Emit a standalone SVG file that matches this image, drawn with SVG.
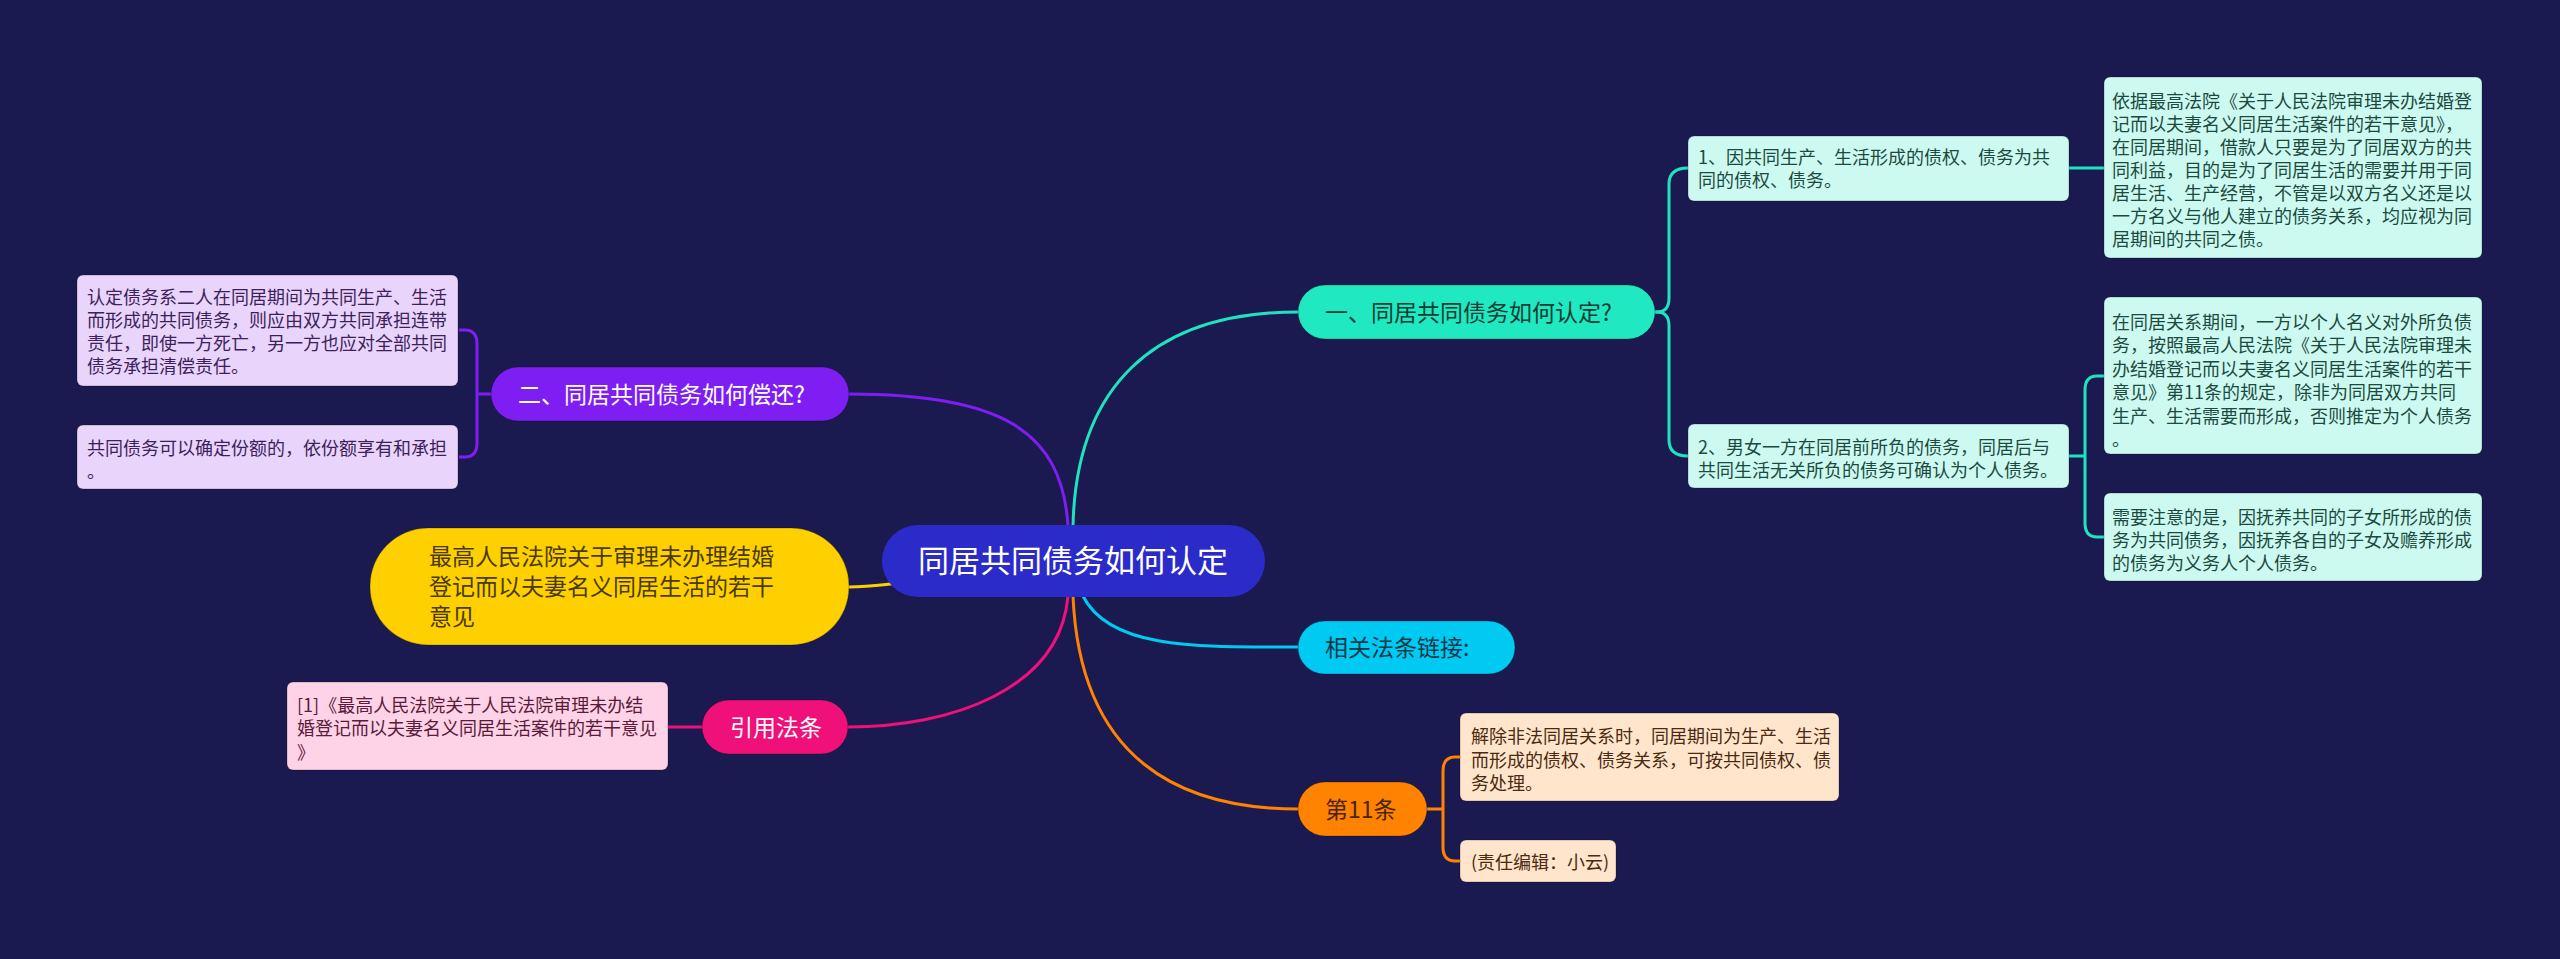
<svg xmlns="http://www.w3.org/2000/svg" width="2560" height="959" viewBox="0 0 2560 959">
<style>
text{font-family:"Noto Sans CJK SC","Noto Sans",sans-serif;}
.leaf{font-size:18px;}
.br{font-size:23px;}
.c{fill:none;stroke-width:3;}
.edge{stroke:rgba(0,0,0,0.25);stroke-width:1;}
</style>
<rect x="0" y="0" width="2560" height="959" fill="#1b1a50"/>
<g id="connectors">
  <path class="c" stroke="#1fe3c0" d="M1073,526 C1076,390 1150,312 1298,312"/>
  <path class="c" stroke="#7e1ef2" d="M1068,526 C1062,430 1000,394 849,394"/>
  <path class="c" stroke="#ffd000" d="M849,587 C870,587 880,585 900,583"/>
  <path class="c" stroke="#f0107a" d="M1068,596 C1060,690 950,727 848,727"/>
  <path class="c" stroke="#00c9f2" d="M1083,596 C1110,650 1200,647 1298,647"/>
  <path class="c" stroke="#ff8200" d="M1073,596 C1080,760 1180,809 1298,809"/>
  <path class="c" stroke="#1fe3c0" d="M1654,312 H1657 Q1669,312 1669,298 V184 Q1669,168 1688,168"/>
  <path class="c" stroke="#1fe3c0" d="M1654,312 H1657 Q1669,312 1669,326 V440 Q1669,456 1688,456"/>
  <path class="c" stroke="#1fe3c0" d="M2069,168 H2104"/>
  <path class="c" stroke="#1fe3c0" d="M2069,456 H2085 M2104,376 H2097 Q2085,376 2085,390 V523 Q2085,537 2097,537 H2104"/>
  <path class="c" stroke="#7e1ef2" d="M491,394 H477 M459,330 H465 Q477,330 477,344 V443 Q477,457 465,457 H459"/>
  <path class="c" stroke="#f0107a" d="M668,727 H702"/>
  <path class="c" stroke="#ff8200" d="M1427,809 H1443 M1460,757 H1455 Q1443,757 1443,771 V847 Q1443,861 1455,861 H1460"/>
</g>
<g id="center">
  <rect x="882" y="525" width="383" height="72" rx="36" fill="#2a2bc8"/>
  <text x="1073" y="572" font-size="31" fill="#ffffff" text-anchor="middle">同居共同债务如何认定</text>
</g>
<g id="branch1">
  <rect class="edge" x="1298" y="285" width="357" height="54" rx="27" fill="#20e8c0"/>
  <text class="br" x="1325" y="321" fill="#0f3d33">一、同居共同债务如何认定?</text>
</g>
<g id="leaf1a">
  <rect class="edge" x="1688" y="136" width="381" height="65" rx="6" fill="#ccfaf1"/>
  <text class="leaf" fill="#1d4a3e"><tspan x="1698" y="164">1、因共同生产、生活形成的债权、债务为共</tspan><tspan x="1698" y="187">同的债权、债务。</tspan></text>
</g>
<g id="leaf1a-detail">
  <rect class="edge" x="2104" y="77" width="378" height="181" rx="6" fill="#ccfaf1"/>
  <text class="leaf" fill="#1d4a3e"><tspan x="2112" y="108">依据最高法院《关于人民法院审理未办结婚登</tspan><tspan x="2112" y="131">记而以夫妻名义同居生活案件的若干意见》，</tspan><tspan x="2112" y="154">在同居期间，借款人只要是为了同居双方的共</tspan><tspan x="2112" y="177">同利益，目的是为了同居生活的需要并用于同</tspan><tspan x="2112" y="200">居生活、生产经营，不管是以双方名义还是以</tspan><tspan x="2112" y="223">一方名义与他人建立的债务关系，均应视为同</tspan><tspan x="2112" y="246">居期间的共同之债。</tspan></text>
</g>
<g id="leaf1b">
  <rect class="edge" x="1688" y="424" width="381" height="64" rx="6" fill="#ccfaf1"/>
  <text class="leaf" fill="#1d4a3e"><tspan x="1698" y="454">2、男女一方在同居前所负的债务，同居后与</tspan><tspan x="1698" y="477">共同生活无关所负的债务可确认为个人债务。</tspan></text>
</g>
<g id="leaf1b-detail1">
  <rect class="edge" x="2104" y="297" width="378" height="157" rx="6" fill="#ccfaf1"/>
  <text class="leaf" fill="#1d4a3e"><tspan x="2112" y="329">在同居关系期间，一方以个人名义对外所负债</tspan><tspan x="2112" y="352">务，按照最高人民法院《关于人民法院审理未</tspan><tspan x="2112" y="376">办结婚登记而以夫妻名义同居生活案件的若干</tspan><tspan x="2112" y="399">意见》第11条的规定，除非为同居双方共同</tspan><tspan x="2112" y="423">生产、生活需要而形成，否则推定为个人债务</tspan><tspan x="2112" y="446">。</tspan></text>
</g>
<g id="leaf1b-detail2">
  <rect class="edge" x="2104" y="493" width="378" height="88" rx="6" fill="#ccfaf1"/>
  <text class="leaf" fill="#1d4a3e"><tspan x="2112" y="524">需要注意的是，因抚养共同的子女所形成的债</tspan><tspan x="2112" y="547">务为共同债务，因抚养各自的子女及赡养形成</tspan><tspan x="2112" y="570">的债务为义务人个人债务。</tspan></text>
</g>
<g id="branch2">
  <rect class="edge" x="491" y="367" width="358" height="54" rx="27" fill="#7e1ef2"/>
  <text class="br" x="518" y="403" fill="#ffffff">二、同居共同债务如何偿还?</text>
</g>
<g id="leaf2a">
  <rect class="edge" x="77" y="275" width="381" height="111" rx="6" fill="#e9d4fb"/>
  <text class="leaf" fill="#3d1f5c"><tspan x="87" y="304">认定债务系二人在同居期间为共同生产、生活</tspan><tspan x="87" y="327">而形成的共同债务，则应由双方共同承担连带</tspan><tspan x="87" y="350">责任，即使一方死亡，另一方也应对全部共同</tspan><tspan x="87" y="373">债务承担清偿责任。</tspan></text>
</g>
<g id="leaf2b">
  <rect class="edge" x="77" y="425" width="381" height="64" rx="6" fill="#e9d4fb"/>
  <text class="leaf" fill="#3d1f5c"><tspan x="87" y="455">共同债务可以确定份额的，依份额享有和承担</tspan><tspan x="87" y="478">。</tspan></text>
</g>
<g id="yellow">
  <rect class="edge" x="370" y="528" width="479" height="117" rx="58" fill="#ffd000"/>
  <text class="br" fill="#4a3a00"><tspan x="429" y="565">最高人民法院关于审理未办理结婚</tspan><tspan x="429" y="595">登记而以夫妻名义同居生活的若干</tspan><tspan x="429" y="625">意见</tspan></text>
</g>
<g id="cite">
  <rect class="edge" x="702" y="700" width="146" height="54" rx="27" fill="#f0107a"/>
  <text class="br" x="730" y="736" fill="#ffffff">引用法条</text>
</g>
<g id="cite-leaf">
  <rect class="edge" x="287" y="682" width="381" height="88" rx="6" fill="#ffd3e7"/>
  <text class="leaf" fill="#5a1a3a"><tspan x="297" y="712">[1]《最高人民法院关于人民法院审理未办结</tspan><tspan x="297" y="735">婚登记而以夫妻名义同居生活案件的若干意见</tspan><tspan x="297" y="759">》</tspan></text>
</g>
<g id="links">
  <rect class="edge" x="1298" y="621" width="217" height="53" rx="26.5" fill="#00c9f2"/>
  <text class="br" x="1325" y="656" fill="#0d3a4a">相关法条链接:</text>
</g>
<g id="art11">
  <rect class="edge" x="1298" y="782" width="129" height="54" rx="27" fill="#ff8200"/>
  <text class="br" x="1325" y="818" fill="#4a2508">第11条</text>
</g>
<g id="art11-leaf1">
  <rect class="edge" x="1460" y="713" width="379" height="88" rx="6" fill="#ffe5cc"/>
  <text class="leaf" fill="#4a2a10"><tspan x="1471" y="743">解除非法同居关系时，同居期间为生产、生活</tspan><tspan x="1471" y="767">而形成的债权、债务关系，可按共同债权、债</tspan><tspan x="1471" y="790">务处理。</tspan></text>
</g>
<g id="art11-leaf2">
  <rect class="edge" x="1460" y="840" width="156" height="42" rx="6" fill="#ffe5cc"/>
  <text class="leaf" x="1471" y="869" fill="#4a2a10">(责任编辑：小云)</text>
</g>
</svg>
